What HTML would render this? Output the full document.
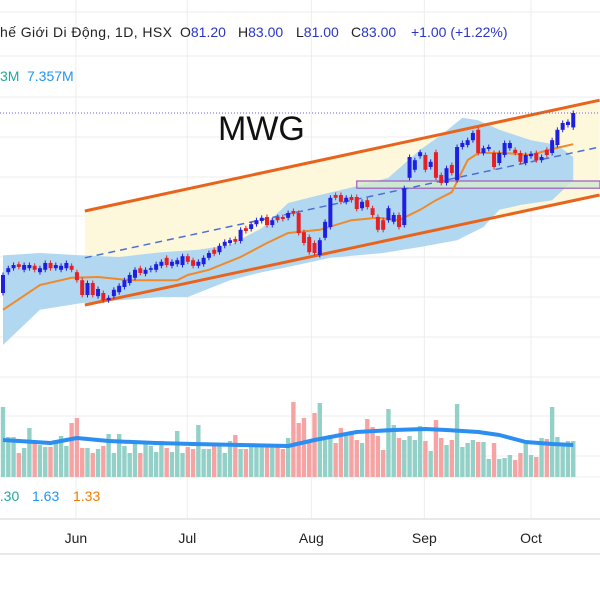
<!DOCTYPE html>
<html><head><meta charset="utf-8"><style>
html,body{margin:0;padding:0;background:#fff;}
svg{display:block;font-family:"Liberation Sans","DejaVu Sans",sans-serif;}
</style></head><body>
<svg id="chart" width="600" height="600" viewBox="0 0 600 600" xmlns="http://www.w3.org/2000/svg">
<rect width="600" height="600" fill="#ffffff"/>
<g id="grid"></g>
<g id="overlays"></g>
<g id="candles"></g>
<g id="volume"></g>
<text x="218" y="140" font-size="34" fill="#111">MWG</text>
<g font-size="14">
<text x="0" y="37" fill="#222" textLength="172">hế Giới Di Động, 1D, HSX</text>
<text x="180" y="37" fill="#222">O<tspan fill="#2a35c8">81.20</tspan></text>
<text x="238" y="37" fill="#222">H<tspan fill="#2a35c8">83.00</tspan></text>
<text x="296" y="37" fill="#222">L<tspan fill="#2a35c8">81.00</tspan></text>
<text x="351" y="37" fill="#222">C<tspan fill="#2a35c8">83.00</tspan></text>
<text x="411" y="37" fill="#2a35c8">+1.00 (+1.22%)</text>
<text x="0" y="81" fill="#26a69a">3M</text>
<text x="27" y="81" fill="#2196f3">7.357M</text>
<text x="-8" y="501" fill="#26a69a">0.30</text>
<text x="32" y="501" fill="#2196f3">1.63</text>
<text x="73" y="501" fill="#f57c00">1.33</text>
</g>
<g id="xaxis" font-size="14" fill="#222" text-anchor="middle"></g>
</svg>
<script>
const opens=[60.5,63.1,63.6,64.1,63.4,63.6,63.9,63.1,63.4,64.25,63.6,63.4,63.6,63.9,63.1,62.1,60.25,61.75,60.1,60.5,59.6,60.1,60.6,61.25,61.75,62.4,63.6,62.9,63.4,63.4,63.9,64.9,63.9,64.1,64.0,65.1,64.6,63.9,64.1,64.9,65.9,65.6,66.4,66.75,67.25,67.0,68.6,68.5,69.1,69.5,70.0,69.0,70.0,70.0,69.9,70.75,70.5,68.1,67.5,66.75,65.25,67.4,68.75,72.75,72.75,71.9,72.5,72.5,71.1,72.1,71.1,70.0,69.6,69.6,69.4,70.25,69.0,74.9,75.9,77.6,77.75,76.25,78.1,75.25,74.25,76.5,74.6,78.75,79.0,79.6,80.9,78.0,78.5,78.0,76.75,77.75,78.6,78.4,78.0,76.75,77.6,78.0,77.1,78.4,78.0,79.0,80.9,81.5,81.2];
const closes=[62.75,63.6,64.0,63.75,64.0,64.0,63.4,63.6,64.25,63.6,64.0,63.9,64.25,63.4,62.1,60.25,61.75,60.25,61.0,59.6,59.9,60.9,61.4,62.1,62.75,63.4,63.0,63.4,63.6,64.1,64.4,64.0,64.4,64.6,65.1,64.4,63.9,64.4,64.9,65.5,65.4,66.4,66.9,67.1,66.9,68.4,68.25,69.1,69.6,69.9,69.0,69.6,69.6,69.75,70.5,70.4,68.0,66.75,65.6,65.5,67.1,69.4,72.4,72.4,71.9,72.4,72.1,71.0,71.9,71.25,70.25,68.4,68.4,71.1,70.25,68.75,73.6,77.5,77.1,78.1,75.9,76.9,74.9,74.25,76.1,75.5,78.75,79.25,79.6,80.5,78.0,78.6,78.75,76.25,78.0,79.25,79.25,78.0,76.9,77.75,77.9,77.1,77.5,77.75,79.6,80.9,81.75,81.9,83.0];
const volumes=[14,8,8,4.8,5.8,9.8,6.8,6.4,6,6,7.4,8.2,6.2,10.8,11.8,5.8,5.8,4.8,5.6,6.2,8.6,4.8,8.6,6.2,4.8,6.8,4.8,6.8,6.2,5,7.2,5.8,5,9.2,4.8,6,5.6,10.4,5.6,5.6,6.2,6.2,4.8,7.2,8.4,5.6,5.6,6.2,6.2,6.2,6.2,6.2,6.2,5.6,7.8,15,10.8,11.8,7.4,12.8,14.8,7.4,8.4,6.8,9.8,8.6,9.2,7.4,6.8,11.6,10,8.2,5.4,13.6,10.4,7.8,7.4,8.2,7.4,10.2,7.2,5.2,11.4,7.8,6.4,7.4,14.6,6,6.8,7.4,7,7,3.6,6.8,3.6,3.8,4.4,3.4,4.8,7.2,4.4,4,7.8,7.6,14,8,6.8,7.2,7.2];
const volMaIdx=[0,9,14,20,29,36,45,54,59,63,67,74,80,84,90,94,99,104,108];
const volMaVal=[7.4,6.8,7.8,7.2,6.8,6.6,6.4,6.2,7.4,8.2,9,9.4,9.6,9.4,9.0,8.4,7,6.6,6.4];
const maIdx=[0,7,13,18,24,33,35,39,45,50,54,60,66,71,75,79,82,85,88,90,95,100,104,108];
const maVal=[58.4,61.5,62.4,62.5,62.1,62.1,62.75,63.4,65.0,66.75,68.0,68.4,69.6,69.9,69.6,70.9,72.1,73.1,77.1,78.0,78.0,77.75,78.5,79.1];
const upIdx=[0,7,15,22,30,37,43,49,54,60,68,73,79,83,87,90,94,100,105,108];
const upVal=[65.2,65.5,65.2,65.0,65.6,65.9,66.5,68.6,71.75,72.75,74.0,74.9,78.4,80.25,82.4,82.1,80.9,79.6,79.0,77.5];
const loIdx=[0,7,15,22,30,35,43,49,54,62,72,79,86,91,94,98,104,108];
const loVal=[54.0,58.4,59.25,59.6,60.0,60.0,62.1,63.1,63.75,64.9,65.5,66.25,67.1,68.75,70.9,71.5,72.1,74.6];
const chanIdx=[15.5,113];
const chanUpper=[70.75,84.6];
const chanLower=[59.0,72.75];
const chanMid=[64.9,78.75];
const zoneStartIdx=67;
const zoneTop=74.5, zoneBottom=73.6;
const lastPrice=83.0;
const months=["Jun","Jul","Aug","Sep","Oct"];
const monthIdx=[13.8,34.9,58.4,79.8,100.0];

const NS="http://www.w3.org/2000/svg";
const X=i=>3+i*5.28;
const Y=p=>113-(p-83)*8;
const VY=v=>477-v*5;
function mk(tag,attrs,parent){const e=document.createElementNS(NS,tag);for(const k in attrs)e.setAttribute(k,attrs[k]);parent.appendChild(e);return e;}
const grid=document.getElementById('grid'),ov=document.getElementById('overlays'),cg=document.getElementById('candles'),vg=document.getElementById('volume'),xa=document.getElementById('xaxis');

[12,56,97,137,177,216,257,297,337,377,416,456,477].forEach(y=>{
  const l=mk('line',{x1:0,x2:600,y1:y,y2:y,stroke:'#ededed','stroke-width':1},grid);
  
  
});
monthIdx.forEach((mi,k)=>{
  const x=X(mi);
  const l=mk('line',{x1:x,x2:x,y1:0,y2:519,stroke:'#ededed','stroke-width':1},grid);
  
  
  const t=mk('text',{x:x,y:543},xa);t.textContent=months[k];
  
  
});
[519,554].forEach(y=>{
  const l=mk('line',{x1:0,x2:600,y1:y,y2:y,stroke:'#e2e2e2','stroke-width':1.5},grid);
  
  
});

const cf=mk('polygon',{points:`${X(chanIdx[0])},${Y(chanUpper[0])} ${X(chanIdx[1])},${Y(chanUpper[1])} ${X(chanIdx[1])},${Y(chanLower[1])} ${X(chanIdx[0])},${Y(chanLower[0])}`,fill:'#fdf7dc'},ov);


let pts=upIdx.map((i,k)=>`${X(i)},${Y(upVal[k])}`);
for(let k=loIdx.length-1;k>=0;k--)pts.push(`${X(loIdx[k])},${Y(loVal[k])}`);
const cl=mk('polygon',{points:pts.join(' '),fill:'#b1d8f0'},ov);


const z=mk('rect',{x:X(zoneStartIdx),y:Y(zoneTop),width:600-X(zoneStartIdx),height:Y(zoneBottom)-Y(zoneTop),fill:'#d4ead0','fill-opacity':0.85,stroke:'#a05ab8','stroke-width':1.2},ov);


const dm=mk('line',{x1:X(chanIdx[0]),y1:Y(chanMid[0]),x2:X(chanIdx[1]),y2:Y(chanMid[1]),stroke:'#4a6fd8','stroke-width':1.5,'stroke-dasharray':'7,5'},ov);


const ma=mk('polyline',{points:maIdx.map((i,k)=>`${X(i)},${Y(maVal[k])}`).join(' '),fill:'none',stroke:'#f0892a','stroke-width':2},ov);


[[chanUpper,'channel-upper-line'],[chanLower,'channel-lower-line']].forEach(([arr,n])=>{
  const l=mk('line',{x1:X(chanIdx[0]),y1:Y(arr[0]),x2:X(chanIdx[1]),y2:Y(arr[1]),stroke:'#e8641c','stroke-width':3},ov);
  
  
});
const lp=mk('line',{x1:0,x2:600,y1:Y(lastPrice),y2:Y(lastPrice),stroke:'#6b63d6','stroke-width':1,'stroke-dasharray':'1,2'},ov);



opens.forEach((o,i)=>{
  const c=closes[i],up=c>=o,col=up?'#1f1fe0':'#e52127';
  const x=X(i),top=Y(Math.max(o,c)),bot=Y(Math.min(o,c));
  const w=mk('line',{x1:x,x2:x,y1:top-2.5,y2:bot+2.5,stroke:col,'stroke-width':1},cg);
  
  
  const b=mk('rect',{x:x-2,y:top,width:4,height:Math.max(1.5,bot-top),fill:col},cg);
  
  
  const v=volumes[i];
  const vb=mk('rect',{x:x-2.2,y:VY(v),width:4.4,height:477-VY(v),fill:up?'#93d1c8':'#f5a3a3'},vg);
  
  
});
const vma=mk('polyline',{points:volMaIdx.map((i,k)=>`${X(i)},${VY(volMaVal[k])}`).join(' '),fill:'none',stroke:'#2b8ef0','stroke-width':4,'stroke-linejoin':'round'},vg);


</script>
</body></html>
